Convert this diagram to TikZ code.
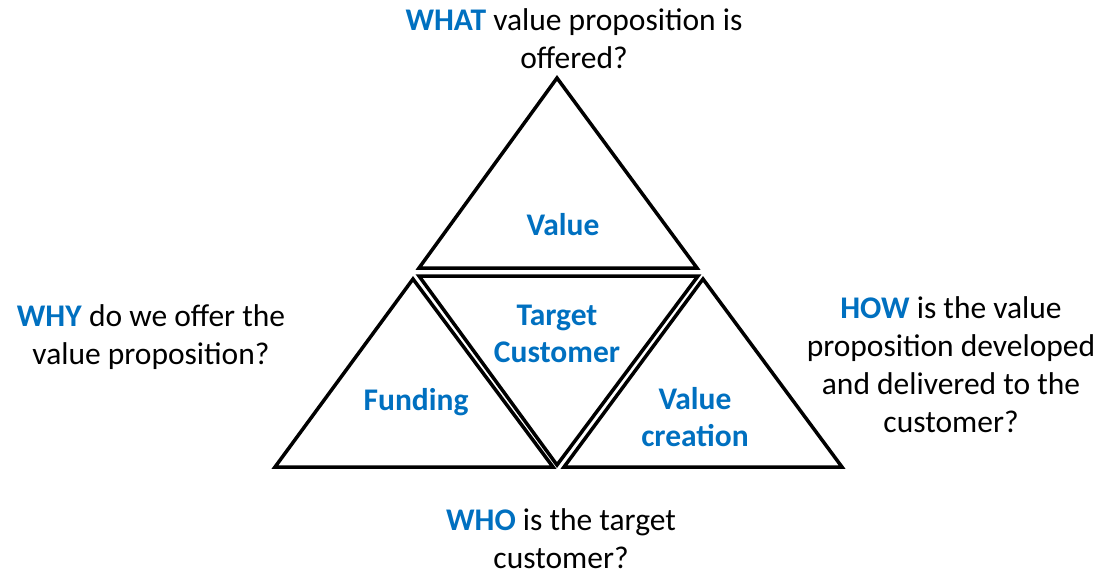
\documentclass[tikz,border=0pt]{standalone}
\usepackage{fontspec}
\setmainfont{Carlito}
\usepackage{tikz}
\usetikzlibrary{positioning}

\definecolor{keyblue}{RGB}{0,112,192}
\newcommand{\kw}[1]{\textcolor{keyblue}{\textbf{#1}}}

\tikzset{
  tri/.style={draw=black,line width=3.5pt,line join=miter},
  part/.style={text=keyblue,font=\fontsize{31.5}{37}\selectfont\bfseries,align=center},
  question/.style={font=\fontsize{31.5}{38}\selectfont,align=center,inner sep=0pt},
}

\begin{document}
\begin{tikzpicture}[x=1pt,y=-1pt]
  \useasboundingbox (0,0) rectangle (1101,575);
  % four triangles
  \draw[tri] (557,78) -- (697,268) -- (419,268) -- cycle;
  \draw[tri] (419,276) -- (698,276) -- (557,465) -- cycle;
  \draw[tri] (413,279) -- (553,467) -- (275,467) -- cycle;
  \draw[tri] (703,279) -- (842,467) -- (564,467) -- cycle;
  % labels inside
  \node[part] (value) at (563,225) {Value};
  \node[part] (target) at (557,334) {Target\\Customer};
  \node[part] (funding) at (416,402) {Funding};
  \node[part] (creation) at (695,417) {Value\\creation};
  % questions around
  \node[question] (what) at (574,39) {\kw{WHAT} value proposition is\\offered?};
  \node[question] (why) at (151,337) {\kw{WHY} do we offer the\\value proposition?};
  \node[question] (how) at (951,365) {\kw{HOW} is the value\\proposition developed\\and delivered to the\\customer?};
  \node[question] (who) at (561,539) {\kw{WHO} is the target\\customer?};
\end{tikzpicture}
\end{document}
